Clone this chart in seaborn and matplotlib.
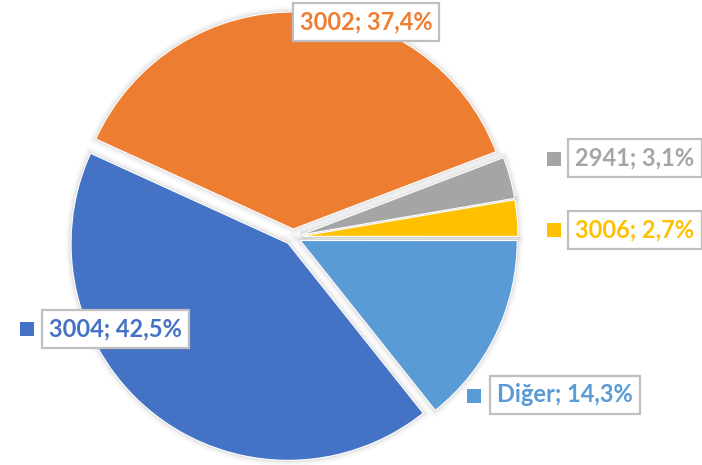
import matplotlib
matplotlib.use("Agg")
import matplotlib.pyplot as plt
import seaborn as sns

sns.set_theme(style="white")
plt.rcParams['font.family'] = ['Lato', 'DejaVu Sans']

categories = ["3004", "3002", "2941", "3006", "Diğer"]
values = [42.5, 37.4, 3.1, 2.7, 14.3]
pct_labels = ["42,5%", "37,4%", "3,1%", "2,7%", "14,3%"]
colors = ["#4472C4", "#ED7D31", "#A5A5A5", "#FFC000", "#5B9BD5"]

# label placement (pie data units) and whether a key marker is shown
label_pos = [(-0.820, -0.424), (0.336, 0.991), (1.576, 0.364), (1.576, 0.032), (1.253, -0.728)]
marker_pos = [(-1.226, -0.424), None, (1.203, 0.359), (1.203, 0.032), (0.834, -0.733)]

W, H = 702, 465
fig = plt.figure(figsize=(W / 100, H / 100), dpi=100)
cx, cy, R = 293, 237, 217
ax = fig.add_axes([(cx - R) / W, (H - cy - R) / H, 2 * R / W, 2 * R / H])
ax.set_aspect('equal')

explode = [0.037] * len(values)
common = dict(startangle=-51.5, counterclock=False, explode=explode, radius=1.0)

# soft shadow layers
for lw, a in [(8, 0.025), (5, 0.035), (2.5, 0.05)]:
    w, _ = ax.pie(values, colors=["#000000"] * len(values),
                  wedgeprops=dict(linewidth=lw, edgecolor="#000000", alpha=a), **common)
    for p in w:
        p.set_clip_on(False)

wedges, _ = ax.pie(values, colors=colors,
                   wedgeprops=dict(linewidth=0.8, edgecolor="white"), **common)
for p in wedges:
    p.set_clip_on(False)

for cat, pct, col, lp, mp in zip(categories, pct_labels, colors, label_pos, marker_pos):
    ax.text(lp[0], lp[1], f"{cat}; {pct}", color=col, fontsize=17, fontweight='bold',
            ha='center', va='center', clip_on=False, zorder=5,
            bbox=dict(boxstyle='square,pad=0.3', facecolor='white',
                      edgecolor='#BFBFBF', linewidth=1.6))
    if mp is not None:
        ax.scatter([mp[0]], [mp[1]], marker='s', s=90, color=col, clip_on=False,
                   zorder=5, linewidths=0)

ax.set_xlim(-1, 1)
ax.set_ylim(-1, 1)
ax.axis('off')

fig.savefig("out.png", dpi=100)
